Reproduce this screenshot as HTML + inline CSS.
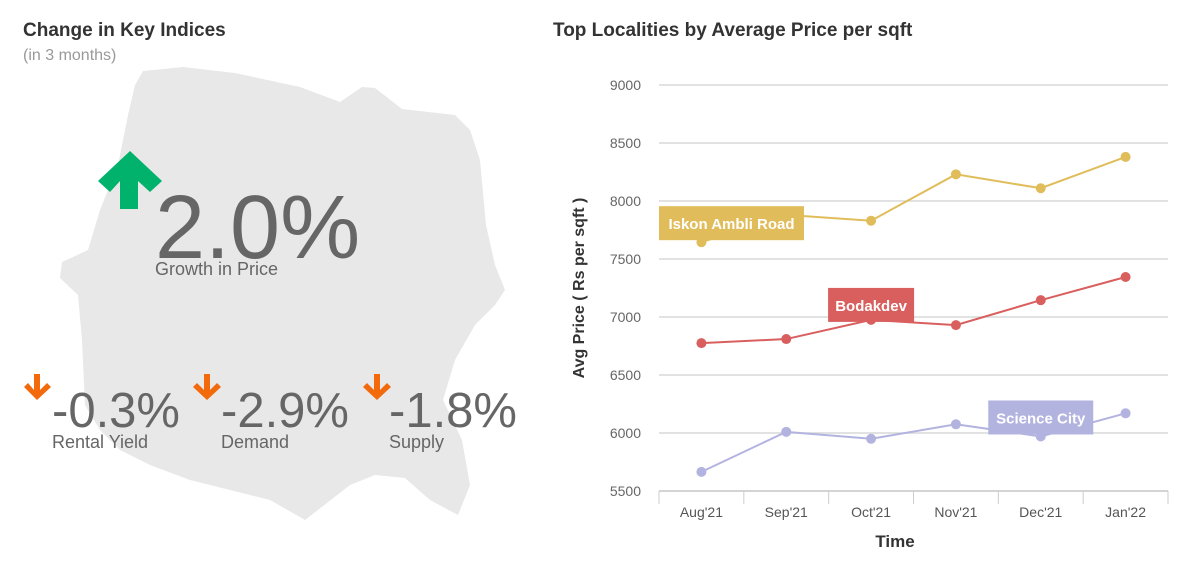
<!DOCTYPE html>
<html><head><meta charset="utf-8"><style>
body{margin:0;width:1202px;height:564px;background:#fff;overflow:hidden;font-family:"Liberation Sans",sans-serif;}
svg{position:absolute;left:0;top:0}
</style></head><body>
<svg width="1202" height="564">
<g>
<text x="23" y="36" font-size="19" font-weight="bold" fill="#333">Change in Key Indices</text>
<text x="23" y="60" font-size="16" fill="#999">(in 3 months)</text>
<path fill="#e8e8e8" d="M143,71 L183,67 L235,73 L300,87 L340,102 L362,87 L375,88 L402,109 L455,115 L470,130 L480,160 L486,225 L495,265 L505,290 L495,305 L475,325 L455,360 L443,400 L462,440 L470,485 L458,515 L430,500 L405,478 L375,475 L350,485 L305,520 L270,500 L230,490 L190,480 L150,465 L120,450 L100,430 L85,405 L82,340 L78,295 L60,278 L62,262 L88,250 L100,210 L118,165 L128,115 L135,85 Z"/>
<polygon fill="#00b26b" points="98,181 130,151 162,181 150,192 138,181 138,209 120,209 120,181 110,192"/>
<text x="155" y="258" font-size="90" fill="#666">2.0%</text>
<text x="155" y="275" font-size="18" fill="#666">Growth in Price</text>
<g>
<polygon fill="#f26a0c" points="24,387 37,400 51,387 47,383 40,390 40,374 34,374 34,390 28,383"/>
<text x="52" y="427" font-size="49" fill="#666">-0.3%</text>
<text x="52" y="448" font-size="18" fill="#666">Rental Yield</text>
</g>
<g>
<polygon fill="#f26a0c" points="193,387 207,400 221,387 217,383 210,390 210,374 204,374 204,390 197,383"/>
<text x="221" y="427" font-size="49" fill="#666">-2.9%</text>
<text x="221" y="448" font-size="18" fill="#666">Demand</text>
</g>
<g>
<polygon fill="#f26a0c" points="363,387 377,400 391,387 387,383 380,390 380,374 374,374 374,390 367,383"/>
<text x="389" y="427" font-size="49" fill="#666">-1.8%</text>
<text x="389" y="448" font-size="18" fill="#666">Supply</text>
</g>
</g>
<g id="chart">
<text x="553" y="36" font-size="19" font-weight="bold" fill="#333">Top Localities by Average Price per sqft</text>
<text x="895" y="547" font-size="17" font-weight="bold" fill="#333" text-anchor="middle">Time</text>
<text transform="translate(584,288) rotate(-90)" font-size="16" font-weight="bold" fill="#333" text-anchor="middle">Avg Price ( Rs per sqft )</text>
</g>
</svg>
<script>
const categories=["Aug'21","Sep'21","Oct'21","Nov'21","Dec'21","Jan'22"];
const yTicks=[5500,6000,6500,7000,7500,8000,8500,9000];
const seriesNames=["Iskon Ambli Road","Bodakdev","Science City"];
const iskonValues=[7645,7880,7830,8230,8110,8380];
const bodakdevValues=[6775,6810,6975,6930,7145,7345];
const scienceCityValues=[5665,6010,5950,6075,5970,6170];
const seriesColors=["#e0bd5a","#d95f5f","#b3b3e0"];
const NS="http://www.w3.org/2000/svg";
const g=document.getElementById('chart');
const X0=659,X1=1168,Y0=491,Y1=85,VMIN=5500,VMAX=9000;
const bw=(X1-X0)/categories.length;
function xS(i){return X0+bw*(i+0.5);}
function yS(v){return Y0-(v-VMIN)/(VMAX-VMIN)*(Y0-Y1);}
function mk(t,a){const e=document.createElementNS(NS,t);for(const k in a)e.setAttribute(k,a[k]);g.appendChild(e);return e;}
yTicks.forEach(v=>{
 const l=mk('line',{x1:X0,x2:X1,y1:yS(v),y2:yS(v),stroke:'#d8d8d8','stroke-width':1.5});
 
 
 const t=mk('text',{x:641,y:yS(v)+5,'font-size':14,fill:'#666','text-anchor':'end'});
 t.textContent=v;
 
 
});
const ax=mk('line',{x1:X0,x2:X1,y1:Y0,y2:Y0,stroke:'#ccc','stroke-width':1.5});


for(let i=0;i<=categories.length;i++){
 const tk=mk('line',{x1:X0+bw*i,x2:X0+bw*i,y1:Y0,y2:Y0+13,stroke:'#ccc','stroke-width':1});
 
 
}
categories.forEach((c,i)=>{
 const t=mk('text',{x:xS(i),y:517,'font-size':14,fill:'#555','text-anchor':'middle'});
 t.textContent=c;
 
 
});
const allSeries=[iskonValues,bodakdevValues,scienceCityValues];
const labelIdx=[0,2,4];
const labelW=[145,86,105];
const labelUp=[36,32,36];
allSeries.forEach((vals,s)=>{
 const p=mk('polyline',{points:vals.map((v,i)=>xS(i)+','+yS(v)).join(' '),fill:'none',stroke:seriesColors[s],'stroke-width':2});
 
 
 vals.forEach((v,i)=>{
  const c=mk('circle',{cx:xS(i),cy:yS(v),r:5,fill:seriesColors[s]});
  
  
 });
});
allSeries.forEach((vals,s)=>{
 const i=labelIdx[s];const cx=xS(i),cy=yS(vals[i]);
 let bx=s==0?X0:cx-labelW[s]/2;const by=cy-labelUp[s];
 const r=mk('rect',{x:bx,y:by,width:labelW[s],height:34,fill:seriesColors[s]});
 
 
 const t=mk('text',{x:bx+labelW[s]/2,y:by+23,'font-size':15,'font-weight':'bold',fill:'#fff','text-anchor':'middle'});
 t.textContent=seriesNames[s];
 
 
});
</script>
</body></html>
